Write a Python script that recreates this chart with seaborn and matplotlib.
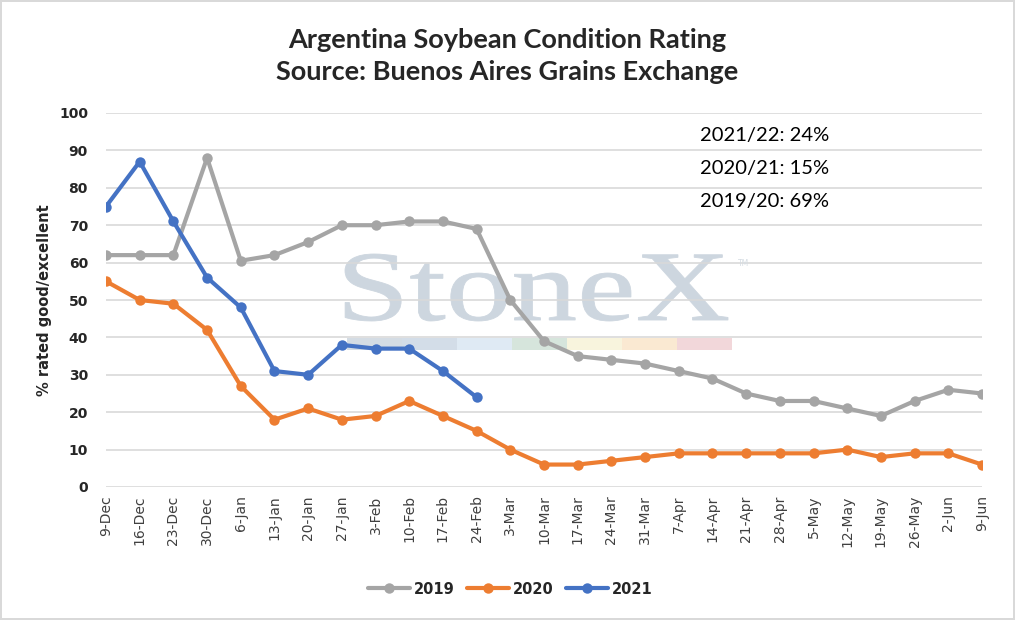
import numpy as np
import pandas as pd
import matplotlib
matplotlib.use("Agg")
import matplotlib.pyplot as plt
import seaborn as sns
from matplotlib.patches import Rectangle, PathPatch
from matplotlib.textpath import TextPath
from matplotlib.font_manager import FontProperties
import matplotlib.transforms as mtransforms

weeks = ["9-Dec", "16-Dec", "23-Dec", "30-Dec", "6-Jan", "13-Jan", "20-Jan", "27-Jan",
         "3-Feb", "10-Feb", "17-Feb", "24-Feb", "3-Mar", "10-Mar", "17-Mar", "24-Mar",
         "31-Mar", "7-Apr", "14-Apr", "21-Apr", "28-Apr", "5-May", "12-May", "19-May",
         "26-May", "2-Jun", "9-Jun"]
y2019 = [62, 62, 62, 88, 60.5, 62, 65.5, 70, 70, 71, 71, 69, 50, 39, 35, 34, 33, 31,
         29, 25, 23, 23, 21, 19, 23, 26, 25]
y2020 = [55, 50, 49, 42, 27, 18, 21, 18, 19, 23, 19, 15, 10, 6, 6, 7, 8, 9, 9, 9, 9,
         9, 10, 8, 9, 9, 6]
y2021 = [75, 87, 71, 56, 48, 31, 30, 38, 37, 37, 31, 24]
series_names = ["2019", "2020", "2021"]
series_colors = ["#A5A5A5", "#ED7D31", "#4472C4"]
notes = ["2021/22: 24%", "2020/21: 15%", "2019/20: 69%"]
yticks = list(range(0, 101, 10))

rows = []
for name, vals in zip(series_names, [y2019, y2020, y2021]):
    for w, v in zip(weeks, vals):
        rows.append({"Week": w, "Rating": v, "Year": name})
df = pd.DataFrame(rows)

sns.set_theme(style="white")
plt.rcParams["font.family"] = ["DejaVu Sans"]

W, H = 1015, 620
fig = plt.figure(figsize=(W / 100, H / 100), dpi=100)
fig.patch.set_facecolor("white")
fig.patch.set_edgecolor("#D9D9D9")
fig.patch.set_linewidth(1.5)

ax = fig.add_axes([106 / W, 1 - 487 / H, (982 - 106) / W, (487 - 113) / H])
ax.set_facecolor("none")

# ---- watermark (decoration), placed in figure space ----
tp = TextPath((0, 0), "StoneX", size=100, prop=FontProperties(family="Liberation Serif"))
ext = tp.get_extents()
bx0, bx1, by_top, by_bot = 345, 728, 254, 321
sx = (bx1 - bx0) / ext.width
sy = (by_bot - by_top) / ext.height
tr = (mtransforms.Affine2D().translate(-ext.x0, -ext.y0).scale(sx / W, sy / H)
      .translate(bx0 / W, (H - by_bot) / H) + fig.transFigure)
ax.add_patch(PathPatch(tp, transform=tr, facecolor="#CDD6DF", edgecolor="#CDD6DF",
                       linewidth=0.6, zorder=0.2, clip_on=False))
fig.text(738 / W, 1 - 264 / H, "TM", fontsize=5.5, color="#D5DCE3", ha="left",
         va="center", zorder=0.2)
strip_colors = ["#D4DCE4", "#D3DDE8", "#DFEAF4", "#D6E5DC", "#F8F4DD", "#FAE9D2", "#F2D7DA"]
for i, c in enumerate(strip_colors):
    ax.add_patch(Rectangle(((347 + i * 55) / W, (H - 350) / H), 55 / W, 12 / H,
                           transform=fig.transFigure, facecolor=c, edgecolor="none",
                           zorder=0.2, clip_on=False))

palette = dict(zip(series_names, series_colors))
sns.lineplot(data=df, x="Week", y="Rating", hue="Year", palette=palette, marker="o",
             sort=False, linewidth=3.0, markersize=7.5, markeredgewidth=0, ax=ax,
             zorder=3)

ax.set_ylim(0, 100)
ax.set_xlim(0, len(weeks) - 1)
ax.set_yticks(yticks)
ax.set_yticklabels([str(t) for t in yticks], fontsize=10, fontweight="bold")
ax.tick_params(axis="x", labelrotation=90, labelsize=10, pad=6, length=0)
ax.tick_params(axis="y", pad=13, length=0)
for lbl in ax.get_xticklabels():
    lbl.set_color("#404040")
ax.grid(axis="y", color="#D9D9D9", linewidth=1.2, zorder=0.5)
ax.grid(axis="x", visible=False)
for s in ax.spines.values():
    s.set_visible(False)
ax.set_xlabel("")
ax.set_ylabel("% rated good/excellent", fontsize=10.5, fontweight="bold", labelpad=5)

# notes
for i, t in enumerate(notes):
    fig.text(700 / W, 1 - (135 + i * 33.5) / H, t, fontsize=14.5, family="Lato",
             ha="left", va="center", color="black")

fig.text(0.5, 1 - 40 / H, "Argentina Soybean Condition Rating", fontsize=19.5,
         fontweight="bold", family="Lato", ha="center", va="center")
fig.text(0.5, 1 - 72 / H, "Source: Buenos Aires Grains Exchange", fontsize=19.5,
         fontweight="bold", family="Lato", ha="center", va="center")

handles, labels = ax.get_legend_handles_labels()
if ax.legend_:
    ax.legend_.remove()
for h in handles:
    h.set_linewidth(3.0)
    h.set_markersize(7.5)
    h.set_markeredgewidth(0)
fig.legend(handles, labels, loc="center", bbox_to_anchor=(510 / W, 1 - 589 / H),
           ncol=3, frameon=False, handlelength=2.9, columnspacing=0.85,
           handletextpad=0.25, prop={"weight": "bold", "size": 10.5})

fig.savefig("out.png", dpi=100, facecolor=fig.get_facecolor(), edgecolor=fig.get_edgecolor())
